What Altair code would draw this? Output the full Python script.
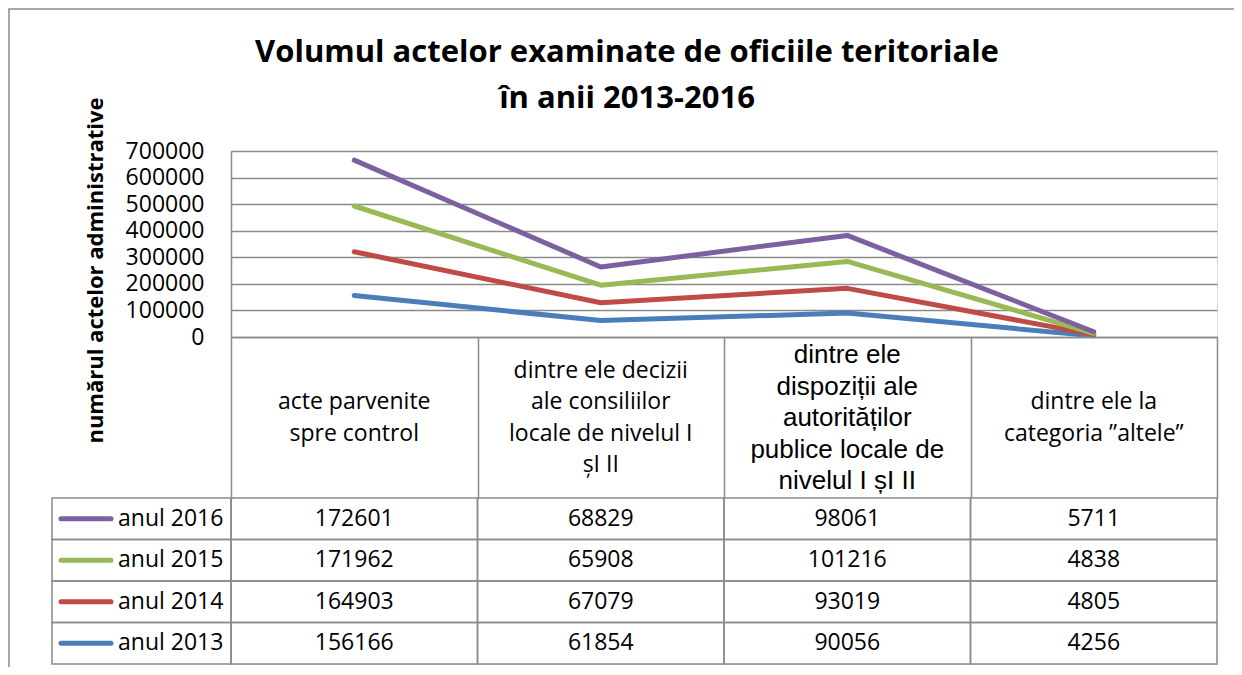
import altair as alt
import pandas as pd

# ---------------- data ----------------
CATEGORIES = [
    "acte parvenite spre control",
    "dintre ele decizii ale consiliilor locale de nivelul I șI II",
    "dintre ele dispoziții ale autorităților publice locale de nivelul I șI II",
    "dintre ele la categoria ”altele”",
]
HEADER_LINES = [
    ["acte parvenite", "spre control"],
    ["dintre ele decizii", "ale consiliilor", "locale de nivelul I", "șI II"],
    ["dintre ele", "dispoziții ale", "autorităților", "publice locale de", "nivelul I șI II"],
    ["dintre ele la", "categoria ”altele”"],
]
YEARS = ["anul 2013", "anul 2014", "anul 2015", "anul 2016"]
VALUES_2013 = [156166, 61854, 90056, 4256]
VALUES_2014 = [164903, 67079, 93019, 4805]
VALUES_2015 = [171962, 65908, 101216, 4838]
VALUES_2016 = [172601, 68829, 98061, 5711]
COLORS = ["#4A7EBB", "#BE4B48", "#98B954", "#7D60A0"]
Y_TICKS = [0, 100000, 200000, 300000, 400000, 500000, 600000, 700000]

TITLE = ["Volumul actelor examinate de oficiile teritoriale", "în anii 2013-2016"]
Y_TITLE = "numărul actelor administrative"

# ---------------- tables ----------------
series = [VALUES_2013, VALUES_2014, VALUES_2015, VALUES_2016]
rows = []
for yi, (year, vals) in enumerate(zip(YEARS, series)):
    for ci, (cat, v) in enumerate(zip(CATEGORIES, vals)):
        rows.append({"year": year, "yi": yi, "cat": cat, "ci": ci, "value": v})
df = pd.DataFrame(rows)
df = df.sort_values(["ci", "yi"])
df["cum"] = df.groupby("cat")["value"].cumsum()
df = df.sort_values(["yi", "ci"]).reset_index(drop=True)

hdr_rows = []
for ci, (cat, lines_) in enumerate(zip(CATEGORIES, HEADER_LINES)):
    n = len(lines_)
    for i, t in enumerate(lines_):
        hdr_rows.append({"cat": cat, "ci": ci, "line": t, "slot": i - (n - 1) / 2})
hdr = pd.DataFrame(hdr_rows)

GRID = "#8a8a8a"
FONT = "Open Sans"
W, H = 986, 513
PLOT_H = 186          # line plot part
HEADER_H = 161        # header row of the data table
ROW_ORDER = YEARS[::-1]
HDR_MID, HDR_LH = 267, 31.5
MAXN = max(len(l) for l in HEADER_LINES)

color_scale = alt.Scale(domain=YEARS, range=COLORS)
x_scale = alt.Scale(type="band", domain=CATEGORIES, paddingInner=0, paddingOuter=0)
y_tab_scale = alt.Scale(type="band", domain=ROW_ORDER, range=[PLOT_H + HEADER_H, H],
                        paddingInner=0, paddingOuter=0)
y_hdr_scale = alt.Scale(domain=[-MAXN / 2, MAXN / 2],
                        range=[HDR_MID - MAXN / 2 * HDR_LH, HDR_MID + MAXN / 2 * HDR_LH],
                        nice=False, zero=False)

x_axis = alt.Axis(
    title=None, orient="bottom", offset=-(H - PLOT_H), grid=False,
    domainColor=GRID, domainWidth=1.5,
    ticks=True, tickBand="extent", tickSize=HEADER_H, tickColor=GRID, tickWidth=1.5,
    labels=False,
)

base = alt.Chart(df)

lines = base.mark_line(strokeWidth=5, strokeCap="round", strokeJoin="round").encode(
    x=alt.X("cat:N", scale=x_scale, axis=x_axis, bandPosition=0.5),
    y=alt.Y(
        "cum:Q",
        scale=alt.Scale(domain=[0, 700000], range=[PLOT_H, 0], nice=False, zero=True),
        axis=alt.Axis(
            values=Y_TICKS, format="d", grid=True, gridColor=GRID, gridWidth=1.5,
            ticks=False, tickSize=0, domain=True, domainColor=GRID, domainWidth=1.5,
            labelFont=FONT, labelFontSize=23, labelPadding=27, labelColor="black",
            labelBaseline="middle",
            title=Y_TITLE, titleFont=FONT, titleFontSize=22, titleFontWeight="bold",
            titleColor="black", titleX=-124, titleY=119, titleAngle=270,
            titleAlign="center", titleBaseline="bottom",
        ),
    ),
    color=alt.Color("year:N", scale=color_scale, legend=None),
    detail="year:N",
    order=alt.Order("ci:Q"),
)

y_tab = alt.Y("year:N", scale=y_tab_scale, axis=None, bandPosition=0.5)
y_tab_rect = alt.Y("year:N", scale=y_tab_scale, axis=None)
x_tab = alt.X("cat:N", scale=x_scale, axis=x_axis)

cells = base.mark_rect(fillOpacity=0, stroke=GRID, strokeWidth=1.5).encode(
    x=x_tab, y=y_tab_rect
)
cell_text = base.mark_text(font=FONT, fontSize=23, color="black", baseline="middle").encode(
    x=x_tab, y=y_tab, text=alt.Text("value:Q", format="d")
)
leg_df = pd.DataFrame({"year": YEARS})
leg_base = alt.Chart(leg_df)
leg_cells = leg_base.mark_rect(fillOpacity=0, stroke=GRID, strokeWidth=1.5).encode(
    x=alt.value(-179), x2=alt.value(0), y=y_tab_rect
)
leg_swatch = leg_base.mark_rule(strokeWidth=5, strokeCap="round").encode(
    x=alt.value(-170), x2=alt.value(-120), y=y_tab,
    color=alt.Color("year:N", scale=color_scale, legend=None),
)
leg_text = leg_base.mark_text(font=FONT, fontSize=23, color="black", align="left",
                              baseline="middle").encode(
    x=alt.value(-113), y=y_tab, text="year:N"
)
table = alt.layer(cells, cell_text, leg_cells, leg_swatch, leg_text)

hdr_base = alt.Chart(hdr)
y_hdr = alt.Y("slot:Q", scale=y_hdr_scale, axis=None)
hdr_calibri = hdr_base.transform_filter(alt.datum.ci != 2).mark_text(
    font=FONT, fontSize=23, color="black", baseline="middle", align="center"
).encode(x=x_tab, y=y_hdr, text="line:N")
hdr_arial = hdr_base.transform_filter(alt.datum.ci == 2).mark_text(
    font="Liberation Sans", fontSize=26, color="black", baseline="middle", align="center"
).encode(x=x_tab, y=y_hdr, text="line:N")
header = alt.layer(hdr_calibri, hdr_arial)

frame = alt.Chart(pd.DataFrame({"f": [0]})).mark_rect(
    fillOpacity=0, stroke=GRID, strokeWidth=1.5
).encode(x=alt.value(-222), x2=alt.value(1020), y=alt.value(-142), y2=alt.value(540))

chart = alt.layer(frame, table, header, lines).resolve_scale(y="independent").properties(
    width=W, height=H,
    autosize=alt.AutoSizeParams(type="none"),
    padding={"left": 223, "top": 143, "right": 17, "bottom": 3},
    title=alt.TitleParams(
        text=TITLE, font=FONT, fontSize=31, fontWeight="bold", color="black",
        anchor="middle", frame="group", dx=-97, offset=-138, lineHeight=46,
        baseline="bottom",
    ),
).configure_view(strokeWidth=0).configure(background="white")

chart.save("out.html", embed_options={"renderer": "svg", "actions": False})
